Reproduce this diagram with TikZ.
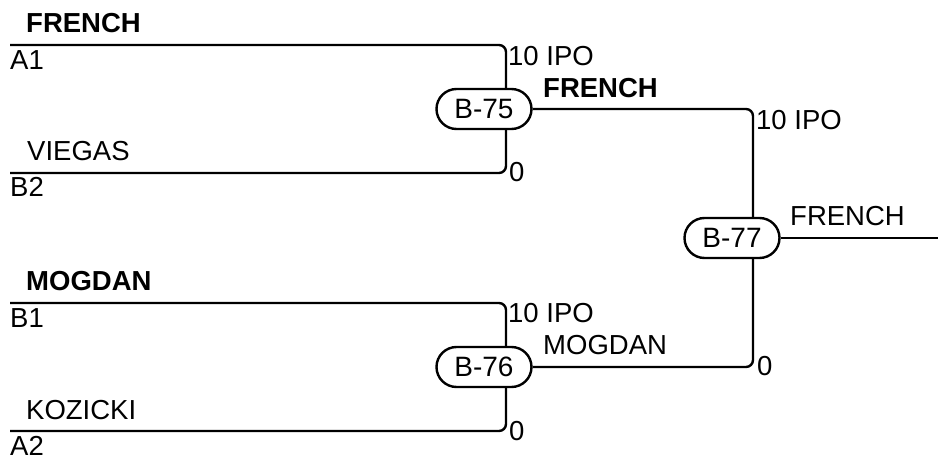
\documentclass[tikz,border=0pt]{standalone}
\usepackage{fontspec}
\setmainfont{Liberation Sans}
\usetikzlibrary{positioning,calc}

\tikzset{
  bout/.style={draw, line width=2.4pt, rounded corners=20pt, minimum width=95pt,
    minimum height=40pt, inner sep=0pt, font=\fontsize{28}{32}\selectfont},
  wire/.style={line width=2.4pt, rounded corners=7pt},
  lbl/.style={anchor=base west, inner sep=0pt, font=\fontsize{27.5}{32}\selectfont},
  winner/.style={lbl, font=\fontsize{27.5}{32}\selectfont\bfseries},
}

\begin{document}
\begin{tikzpicture}[x=1pt, y=-1pt]
\useasboundingbox (0,0) rectangle (938,457);

% bouts
\node[bout] (b75) at (484,109) {B-75};
\node[bout] (b76) at (484,367) {B-76};
\node[bout] (b77) at (732,238) {B-77};

% entry points of the lines
\coordinate (a1) at (10,45);
\coordinate (b2) at (10,173);
\coordinate (b1) at (10,303);
\coordinate (a2) at (10,431);
\coordinate (out) at (938,238);
\coordinate (t75) at ([xshift=22pt]b75.north);
\coordinate (s75) at ([xshift=22pt]b75.south);
\coordinate (t76) at ([xshift=22pt]b76.north);
\coordinate (s76) at ([xshift=22pt]b76.south);
\coordinate (t77) at ([xshift=21pt]b77.north);
\coordinate (s77) at ([xshift=21pt]b77.south);

\draw[wire] (a1) -- (a1 -| t75) -- (t75);
\draw[wire] (b2) -- (b2 -| s75) -- (s75);
\draw[wire] (b1) -- (b1 -| t76) -- (t76);
\draw[wire] (a2) -- (a2 -| s76) -- (s76);
\draw[wire] (b75.east) -- (b75.east -| t77) -- (t77);
\draw[wire] (b76.east) -- (b76.east -| s77) -- (s77);
\draw[wire] (b77.east) -- (out);

% competitors
\node[winner] (n1) at (26,33) {FRENCH};
\node[lbl] (n2) at (10,70) {A1};
\node[lbl] (n3) at (27,161) {VIEGAS};
\node[lbl] (n4) at (10,197) {B2};
\node[winner] (n5) at (26,291) {MOGDAN};
\node[lbl] (n6) at (10,327) {B1};
\node[lbl] (n7) at (26,419) {KOZICKI};
\node[lbl] (n8) at (10,455) {A2};

% scores
\node[lbl] (s1) at (508,66) {10 IPO};
\node[winner] (s2) at (543,98) {FRENCH};
\node[lbl] (s3) at (509,182) {0};
\node[lbl] (s4) at (508,323) {10 IPO};
\node[lbl] (s5) at (543,355) {MOGDAN};
\node[lbl] (s6) at (509,440) {0};
\node[lbl] (s7) at (756,130) {10 IPO};
\node[lbl] (s8) at (790,226) {FRENCH};
\node[lbl] (s9) at (757,376) {0};
\end{tikzpicture}
\end{document}
